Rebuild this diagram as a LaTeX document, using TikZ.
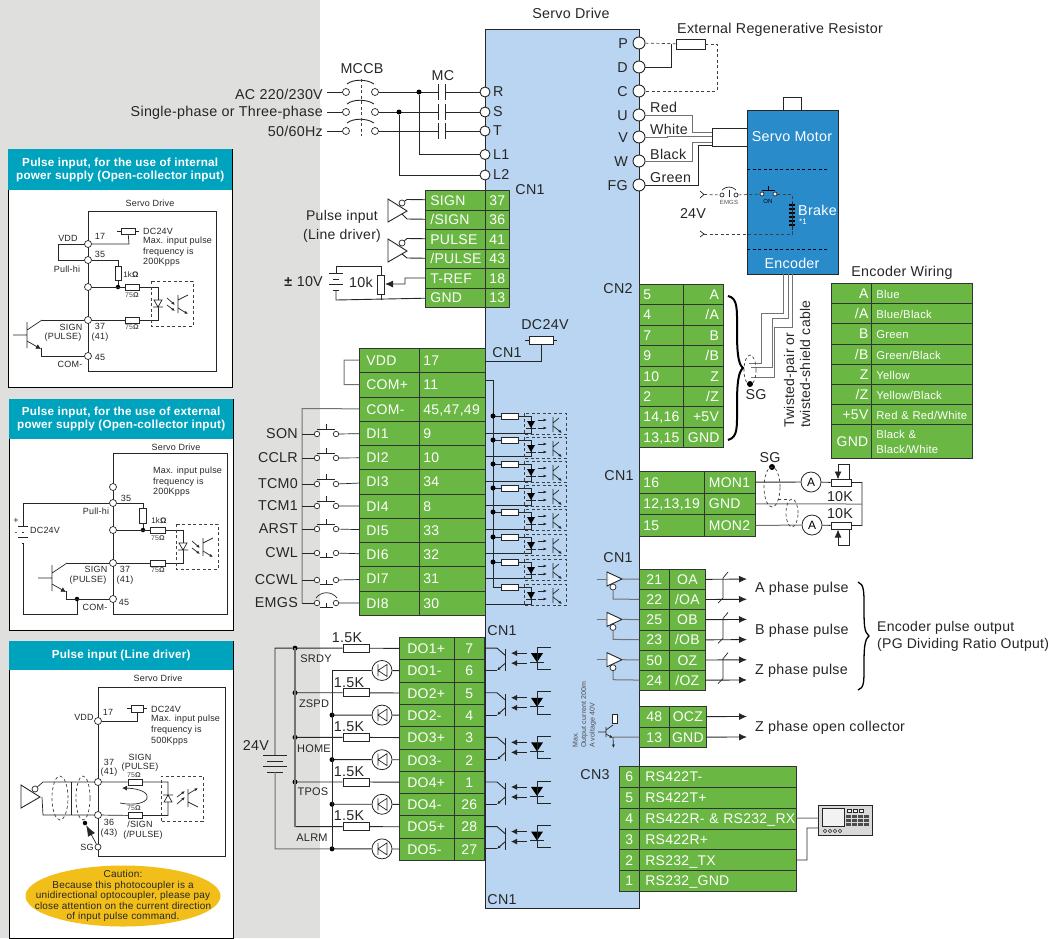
\documentclass[tikz,border=0pt]{standalone}
\usepackage{fontspec}
\setmainfont[LetterSpace=2]{Liberation Sans}
\usetikzlibrary{arrows.meta,shapes.geometric}
\definecolor{bggrey}{HTML}{DFDFDD}
\definecolor{drivecol}{HTML}{B9D5F1}
\definecolor{cngreen}{HTML}{6AB743}
\definecolor{motorcol}{HTML}{2A8BCB}
\definecolor{hdrcol}{HTML}{00A3BE}
\definecolor{cautioncol}{HTML}{F2BE1A}
\tikzset{
  lab/.style={inner sep=0pt,font=\fontsize{14.3}{17}\selectfont,text=black!85},
  slab/.style={inner sep=0pt,font=\fontsize{9}{10.6}\selectfont,text=black!85},
  xslab/.style={inner sep=0pt,font=\fontsize{7}{8.5}\selectfont,text=black!70},
  wire/.style={line width=.9pt,draw=black!85},
  gwire/.style={line width=1pt,draw=black!55},
  thin wire/.style={line width=.7pt,draw=black!85},
  dash wire/.style={line width=.7pt,draw=black!75,dash pattern=on 3pt off 2.5pt},
  term/.style={circle,draw=black!85,line width=.9pt,fill=white,inner sep=0pt,minimum size=10pt},
  bterm/.style={term,minimum size=12pt},
  sterm/.style={term,line width=.7pt,minimum size=7pt},
  swterm/.style={term,line width=.7pt,minimum size=5.5pt},
  dot/.style={circle,fill=black,inner sep=0pt,minimum size=5pt},
  res/.style 2 args={rectangle,draw=black!85,line width=.7pt,fill=white,inner sep=0pt,minimum width=#1pt,minimum height=#2pt},
  cell/.style={draw=black!80,line width=.7pt,fill=cngreen,text=white,anchor=north west,inner sep=0pt,
    text height=10pt,text depth=0pt,font=\fontsize{14}{16}\selectfont},
  lcell/.style 2 args={cell,minimum width=#1pt,minimum height=#2pt,text width=#1pt-10pt,align=left},
  rcell/.style 2 args={cell,minimum width=#1pt,minimum height=#2pt,text width=#1pt-6pt,align=right},
  ccell/.style 2 args={cell,minimum width=#1pt,minimum height=#2pt,text width=#1pt-2pt,align=center},
  panel/.style={draw=black,line width=1pt,fill=white,anchor=north west,inner sep=0pt},
  panelhdr/.style={fill=hdrcol,text=white,anchor=north west,inner sep=0pt,align=center,
    font=\fontsize{11.7}{13}\bfseries\selectfont},
  frame/.style={draw=black!85,line width=.7pt,anchor=north west,inner sep=0pt},
  atip/.style={-{Latex[length=8pt,width=7pt]}},
  stip/.style={-{Latex[length=3.5pt,width=3pt]}}
}
\newcommand{\battplates}[4]{
  \draw[wire] (#2-#3,#4)--(#2+#3,#4) (#2-#3+4,#4+6)--(#2+#3-4,#4+6)
    (#2-#3,#4+11)--(#2+#3,#4+11) (#2-#3+4,#4+17)--(#2+#3-4,#4+17);
  \coordinate (#1p) at (#2,#4);
  \coordinate (#1n) at (#2,#4+17);
}
\newcommand{\fusebox}[5]{
  \draw[thin wire] (#2-#4-4,#3)--(#2+#4+4,#3);
  \node[res={#4*2}{#5*2}] (#1) at (#2,#3) {};
}
\newcommand{\linedrv}[3]{
  \draw[wire,fill=white] (#2,#3)--(#2,#3+23)--(#2+19,#3+12)--cycle;
  \node[term,line width=.7pt,minimum size=6pt] (#1b) at (#2+14,#3+4) {};
  \coordinate (#1t) at (#2+14,#3+15);
}
\newcommand{\outbuf}[2]{
  \draw[wire,fill=white] (607,#2-7)--(607,#2+7)--(622,#2)--cycle;
  \node[term,line width=.7pt,minimum size=6pt] (#1b) at (613,#2+8) {};
  \coordinate (#1t) at (622,#2);
  \coordinate (#1i) at (597,#2);
  \coordinate (#1l) at (613,#2+20);
}
\newcommand{\npnout}[3]{
  \draw[thin wire] (#2-14,#3+13)--(#2,#3+13) (#2,#3)--(#2,#3+26) (#2,#3+8)--(#2+15,#3-2);
  \draw[thin wire,-{Latex[length=5pt,width=5pt]}] (#2,#3+19)--(#2+14,#3+27);
  \coordinate (#1c) at (#2+15,#3-2);
  \coordinate (#1e) at (#2+14,#3+26);
}
\newcommand{\optobox}[3][1]{
  \begin{scope}[shift={(#2,#3)},yscale=#1]
    \draw[dash wire] (0,0) rectangle (42,45);
    \draw[thin wire,fill=white] (3,19)--(11,19)--(7,26)--cycle (2,26)--(12,26);
    \draw[thin wire,stip] (16,17)--(24,24);
    \draw[thin wire,stip] (16,24)--(24,30);
    \draw[thin wire] (27,14)--(27,32) (27,19)--(37,14);
    \draw[thin wire,stip] (27,27)--(37,33);
  \end{scope}
}
\begin{document}
\begin{tikzpicture}[x=1pt,y=-1pt]
\useasboundingbox (0,0) rectangle (1051,938);
\fill[bggrey] (0,0) rectangle (320,938);
\node[draw=black!85,line width=.8pt,fill=drivecol,anchor=north west,minimum width=154pt,minimum height=879pt] (drive) at (485,29) {};
\node[lab] (drivel) at (571,13) {Servo Drive};

\node[panel,minimum width=224pt,minimum height=238pt] (pana) at (8,149) {};
\node[panelhdr,minimum width=224pt,minimum height=41pt] (panah) at (8,149) {Pulse input, for the use of internal\\power supply (Open-collector input)};
\node[frame,minimum width=128pt,minimum height=160pt] (pafr) at (88,211) {};
\node[slab] (pal1) at (150,203) {Servo Drive};
\foreach \nam/\y in {a17/244,a35/260,am/287,a37/320,a45/356}
  \node[sterm] (\nam) at (88,\y) {};
\fusebox{afuse}{128}{231}{7}{3}
\coordinate (aj1) at (58,244);
\coordinate (aj2) at (58,260);
\coordinate (aj3) at (129,244);
\coordinate (aj4) at (118,260);
\coordinate (aj5) at (158,287);
\coordinate (aj6) at (158,320);
\draw[thin wire] (a17) -- (aj1) -- (aj2) -- (a35);
\draw[thin wire] (a17) -- (aj3) -- (afuse);
\node[res={6}{14}] (ar1) at (118,273) {};
\node[dot,minimum size=4.5pt] (ad1) at (118,287) {};
\draw[thin wire] (a35) -- (aj4) -- (ar1) -- (ad1);
\node[res={14}{6}] (ar2) at (132,287) {};
\node[res={14}{6}] (ar3) at (132,320) {};
\draw[thin wire] (am) -- (ar2) -- (aj5) -- (aj6) -- (ar3) -- (a37);
\optobox{151}{281}
\npnout{an}{27}{322}
\coordinate (aj7) at (41,356);
\draw[thin wire] (anc) -- (a37);
\draw[thin wire] (ane) -- (aj7) -- (a45);
\foreach \nam/\x/\y/\txt in {p1/100/236/17,p2/68/238/VDD,p3/100/254/35,p4/67/269/Pull-hi,p5/71/327/SIGN,p6/63/337/(PULSE),p7/100/326/37,p8/100/337/(41),p9/100/357/45,p10/70/364/COM-}
  \node[slab] (a\nam) at (\x,\y) {\txt};
\foreach \nam/\y/\txt in {t1/231/DC24V,t2/241.5/Max. input pulse,t3/252/frequency is,t4/262.5/200Kpps}
  \node[slab,anchor=west] (a\nam) at (143,\y) {\txt};
\node[slab,font=\fontsize{8}{9}\selectfont] (ao1) at (131,275) {1k\textbf{Ω}};
\node[xslab] (ao2) at (132,295) {75\textbf{Ω}};
\node[xslab] (ao3) at (132,327) {75\textbf{Ω}};

\node[panel,minimum width=224pt,minimum height=231pt] (panb) at (9,399) {};
\node[panelhdr,minimum width=224pt,minimum height=40pt] (panbh) at (9,399) {Pulse input, for the use of external\\power supply (Open-collector input)};
\node[frame,minimum width=114pt,minimum height=161pt] (pbfr) at (113,453) {};
\node[slab] (pbl1) at (176,447) {Servo Drive};
\foreach \nam/\y in {b0/487,b35/503,bm/530,b37/563,b45/599}
  \node[sterm] (\nam) at (113,\y) {};
\coordinate (bj1) at (143,503);
\coordinate (bj2) at (183,530);
\coordinate (bj3) at (183,563);
\node[res={7}{15}] (br1) at (143,515.5) {};
\node[dot,minimum size=4.5pt] (bd1) at (143,530) {};
\draw[thin wire] (b35) -- (bj1) -- (br1) -- (bd1);
\node[res={15}{6}] (br2) at (158,530) {};
\node[res={15}{6}] (br3) at (158,563) {};
\draw[thin wire] (bm) -- (br2) -- (bj2) -- (bj3) -- (br3) -- (b37);
\optobox{176}{524}
\battplates{bb}{23}{5}{526}
\coordinate (bj4) at (23,503);
\coordinate (bj5) at (23,614);
\coordinate (bj6) at (77,614);
\node[dot,minimum size=4.5pt] (bd2) at (77,599) {};
\draw[thin wire] (b35) -- (bj4) -- (bbp);
\draw[thin wire] (bbn) -- (bj5) -- (bj6) -- (bd2);
\npnout{bn}{52}{565}
\coordinate (bj7) at (66,599);
\draw[thin wire] (bnc) -- (b37);
\draw[thin wire] (bne) -- (bj7) -- (b45);
\foreach \nam/\x/\y/\txt in {p1/126/498/35,p2/96/511/Pull-hi,p3/96/569/SIGN,p4/88/580/(PULSE),p5/125/569/37,p6/125/580/(41),p7/124/602/45,p8/95/607/COM-,p9/16/521/+,p10/16/534/-}
  \node[slab] (b\nam) at (\x,\y) {\txt};
\node[slab,anchor=west] (bt0) at (30,530) {DC24V};
\foreach \nam/\y/\txt in {t1/471/Max. input pulse,t2/482/frequency is,t3/492.5/200Kpps}
  \node[slab,anchor=west] (b\nam) at (153,\y) {\txt};
\node[slab,font=\fontsize{8}{9}\selectfont] (bo1) at (159,521) {1k\textbf{Ω}};
\node[xslab] (bo2) at (158,538) {75\textbf{Ω}};
\node[xslab] (bo3) at (158,570) {75\textbf{Ω}};

\node[panel,minimum width=224pt,minimum height=297pt] (panc) at (9,641) {};
\node[panelhdr,minimum width=224pt,minimum height=29pt] (panch) at (9,641) {Pulse input (Line driver)};
\node[frame,minimum width=127pt,minimum height=169pt] (pcfr) at (98,687) {};
\node[slab] (pcl1) at (158,678) {Servo Drive};
\foreach \nam/\y in {c17/721,c37/782,c36/815}
  \node[sterm] (\nam) at (98,\y) {};
\node[sterm,minimum size=6pt] (csg) at (98,847) {};
\fusebox{cfuse}{137}{708.5}{6}{3.5}
\coordinate (cj1) at (137,721);
\draw[thin wire] (c17) -- (cj1) -- (cfuse);
\node[res={14}{6}] (cr1) at (135,782) {};
\node[res={14}{6}] (cr2) at (135,815.5) {};
\coordinate (cj2) at (168,782);
\coordinate (cj3) at (168,815.5);
\draw[thin wire] (c37) -- (cr1) -- (cj2) -- (cj3) -- (cr2) -- (c36);
\optobox[-1]{161}{821}
\draw[thin wire,-{Latex[length=5pt,width=5pt]}] (120,803) .. controls (152,809) and (158,789) .. (122,788);
\linedrv{cdrv}{21}{785}
\coordinate (cj4) at (43,782);
\coordinate (cj5) at (43,815);
\coordinate (cj6) at (42,797);
\draw[thin wire] (cdrvb) -- (cj4) -- (c37);
\draw[thin wire] (cj6) -- (cj5) -- (c36);
\coordinate (cj7) at (71,782);
\coordinate (cj8) at (71,815);
\draw[thin wire] (cj7) -- (cj8);
\draw[dash wire] (60,798) ellipse [x radius=8pt,y radius=22pt];
\draw[dash wire] (83,798) ellipse [x radius=7pt,y radius=22pt];
\node[dot,minimum size=4.5pt] (cd1) at (85,823) {};
\draw[thin wire,-{Latex[length=11pt,width=8pt]}] (csg) -- (cd1);
\foreach \nam/\x/\y/\txt in {p1/84/717/VDD,p2/108/712/17,p3/109/762/37,p4/109/772/(41),p5/140/757/SIGN,p6/140/767/(PULSE),p7/109/822/36,p8/109/833/(43),p9/140/824/{/SIGN},p10/143/835/{(/PULSE)},p11/87/847/SG}
  \node[slab] (c\nam) at (\x,\y) {\txt};
\foreach \nam/\y/\txt in {t1/709/DC24V,t2/719.5/Max. input pulse,t3/730/frequency is,t4/741/500Kpps}
  \node[slab,anchor=west] (c\nam) at (151,\y) {\txt};
\node[xslab] (co1) at (134,775) {75\textbf{Ω}};
\node[xslab] (co2) at (134,808) {75\textbf{Ω}};
\fill[cautioncol] (123,896) ellipse [x radius=97.5pt,y radius=30.5pt];
\node[inner sep=0pt,align=center,font=\fontsize{10}{10.6}\selectfont,text=black!85] (caution) at (123,896)
  {Caution:\\Because this photocoupler is a\\unidirectional optocoupler, please pay\\close attention on the current direction\\of input pulse command.};

\foreach \lab/\y in {R/92,S/112,T/131,L1/154.5,L2/175} {
  \node[term] (t\lab) at (485,\y) {};
  \node[lab,anchor=west] (l\lab) at (493,\y) {\lab};
}
\node[lab,anchor=east] (ac1) at (323,94) {AC 220/230V};
\node[lab,anchor=east] (ac2) at (323,113) {Single-phase or Three-phase};
\node[lab,anchor=east] (ac3) at (323,131.5) {50/60Hz};
\node[lab] (mccb) at (362,69) {MCCB};
\node[lab] (mcl) at (443,76) {MC};
\foreach \lab/\y [count=\i] in {R/92,S/112,T/131} {
  \node[sterm] (ba\i) at (346,\y) {};
  \node[sterm] (bb\i) at (375,\y) {};
  \coordinate (mcl\i) at (438,\y);
  \coordinate (mcr\i) at (445,\y);
  \coordinate (mi\i) at (327,\y);
  \draw[wire] (mi\i) -- (ba\i);
  \draw[wire] (bb\i) -- (mcl\i);
  \draw[wire] (mcr\i) -- (t\lab);
  \draw[wire] (438,\y-8)--(438,\y+8) (445,\y-8)--(445,\y+8);
  \draw[wire] (347,\y-8) .. controls (353,\y-13) and (367,\y-13) .. (374,\y-8);
}
\draw[dash wire] (361,79)--(361,136);
\node[dot] (d1) at (419,92) {};
\node[dot] (d2) at (399,112) {};
\coordinate (j1) at (419,154.5);
\coordinate (j2) at (399,175);
\draw[wire] (d1) -- (j1) -- (tL1);
\draw[wire] (d2) -- (j2) -- (tL2);

\foreach \lab/\num [count=\i from 0] in {SIGN/37,{/SIGN}/36,PULSE/41,{/PULSE}/43,T-REF/18,GND/13} {
  \node[lcell={60}{19.5}] (pin\i) at (425,190+\i*19.5) {\lab};
  \node[ccell={24}{19.5}] (pnum\i) at (485,190+\i*19.5) {\num};
}
\node[lab] (cn1a) at (530,190) {CN1};
\linedrv{sdrv}{388}{199}
\linedrv{pdrv}{388}{239}
\coordinate (s1) at (407,199.5);
\coordinate (s2) at (407,219);
\coordinate (s3) at (407,238.5);
\coordinate (s4) at (407,258);
\draw[wire] (sdrvb) -- (s1) -- (pin0);
\draw[wire] (sdrvt) -- (s2) -- (pin1);
\draw[wire] (pdrvb) -- (s3) -- (pin2);
\draw[wire] (pdrvt) -- (s4) -- (pin3);
\node[lab,font=\fontsize{14}{19}\selectfont,align=center] (pulsel) at (342,226) {Pulse input\\(Line driver)};
\node[lab,anchor=east] (tenv) at (323,282) {\textbf{±} 10V};
\battplates{tb}{336}{7}{273}
\node[res={7}{19}] (potr) at (381,284.5) {};
\node[lab] (tenk) at (361,282) {10k};
\coordinate (q1) at (336,266);
\coordinate (q2) at (381,266);
\coordinate (q3) at (336,300);
\coordinate (q4) at (381,300);
\coordinate (q5) at (405,278);
\coordinate (q6) at (405,284);
\coordinate (q7) at (385,284);
\draw[wire] (tbp) -- (q1) -- (q2) -- (potr);
\draw[wire] (tbn) -- (q3) -- (pin5);
\draw[wire] (potr) -- (q4);
\draw[wire,atip] (pin4) -- (q5) -- (q6) -- (q7);

\foreach \lab/\num [count=\i from 0] in {VDD/17,COM+/11,COM-/{45,47,49},DI1/9,DI2/10,DI3/34,DI4/8,DI5/33,DI6/32,DI7/31,DI8/30} {
  \node[lcell={60}{24.27},text width=46pt] (dia\i) at (359,348+\i*24.27) {\lab};
  \node[lcell={66}{24.27},text width=58pt] (dib\i) at (419,348+\i*24.27) {\num};
}
\coordinate (v1) at (344,360);
\coordinate (v2) at (344,384.5);
\draw[gwire] (dia0) -- (v1) -- (v2) -- (dia1);
\coordinate (c1) at (302,408.5);
\coordinate (c2) at (302,603);
\draw[gwire] (dia2) -- (c1) -- (c2);
\foreach \lab/\y [count=\i from 3] in {SON/434,CCLR/458,TCM0/484,TCM1/506,ARST/529,CWL/553,CCWL/580,EMGS/603} {
  \node[lab,anchor=east] (sl\i) at (298,\y) {\lab};
  \node[swterm] (swa\i) at (317,\y) {};
  \node[swterm] (swb\i) at (336,\y) {};
  \coordinate (swl\i) at (302,\y);
  \draw[thin wire] (swl\i) -- (swa\i);
  \draw[thin wire] (swb\i) -- (dia\i);
}
\foreach \y in {434,458,484,506,529}
  \draw[thin wire] (317,\y-5)--(335,\y-5) (326,\y-5)--(326,\y-10);
\foreach \y in {553,580,603}
  \draw[thin wire] (320,\y+4)--(333,\y+4) (326.5,\y+4)--(326.5,\y);
\draw[thin wire] (316,598) .. controls (321,591) and (332,591) .. (337,598);
\fusebox{dcfuse}{541}{340}{12}{4}
\node[lab] (dcl) at (545,325) {DC24V};
\node[lab] (cn1b) at (507,353) {CN1};
\coordinate (f1) at (541,361);
\coordinate (f2) at (485,361);
\draw[wire] (dcfuse) -- (f1) -- (f2);
\coordinate (e1) at (485,380);
\coordinate (e2) at (493,380);
\coordinate (e3) at (493,587);
\draw[wire] (e1) -- (e2) -- (e3);
\foreach \yr/\yb [count=\i] in {416/433,440/456,464/481,488/505,512/529,537/553,562/578,587/604} {
  \node[res={17}{6}] (dir\i) at (510,\yr) {};
  \coordinate (dil\i) at (493,\yr);
  \coordinate (dit\i) at (531,\yr);
  \coordinate (dim\i) at (531,\yb);
  \coordinate (dio\i) at (485,\yb);
  \draw[wire] (dil\i) -- (dir\i) -- (dit\i) -- (dim\i) -- (dio\i);
  \draw[dash wire] (524,\yr-3) rectangle (566,\yr+18);
  \fill[black] (527,\yr+5)--(535,\yr+5)--(531,\yr+12)--cycle;
  \draw[thin wire] (526,\yr+12)--(536,\yr+12);
  \draw[thin wire,stip] (538,\yr+4)--(547,\yr+4);
  \draw[thin wire,stip] (538,\yr+12)--(547,\yr+12);
  \draw[thin wire] (553,\yr+1)--(553,\yr+16) (553,\yr+7)--(559,\yr+2);
  \draw[thin wire,stip] (553,\yr+10)--(562,\yr+17);
}
\foreach \i in {1,...,7}
  \node[dot] (did\i) at (dil\i) {};

\foreach \lab/\num [count=\i] in {DO1+/7,DO1-/6,DO2+/5,DO2-/4,DO3+/3,DO3-/2,DO4+/1,DO4-/26,DO5+/28,DO5-/27} {
  \node[lcell={55}{22.3},text width=39pt] (doa\i) at (399,637+\i*22.3-22.3) {\lab};
  \node[ccell={30}{22.3}] (dob\i) at (454,637+\i*22.3-22.3) {\num};
}
\node[lab] (cn1c) at (502,631) {CN1};
\foreach \i/\x/\tx in {1/295/347,3/295/349,5/295/349,7/295/349,9/295/349} {
  \node[res={26}{8}] (dor\i) at (356,625.85+\i*22.3) {};
  \coordinate (dol\i) at (\x,625.85+\i*22.3);
  \draw[wire] (dol\i) -- (dor\i) -- (doa\i);
  \node[lab] (dok\i) at (\tx,625.85+\i*22.3-10.5) {1.5K};
}
\foreach \i in {1,3,5,7}
  \node[dot] (dod\i) at (dol\i) {};
\draw[gwire,line width=1.2pt] (dol1) -- (dol9);
\foreach \i in {2,4,6,8,10} {
  \node[circle,draw=black!85,line width=.8pt,fill=white,inner sep=0pt,minimum size=20pt] (doc\i) at (382,625.85+\i*22.3) {};
  \coordinate (dom\i) at (332,625.85+\i*22.3);
  \draw[wire] (doa\i) -- (doc\i) -- (dom\i);
  \draw[thin wire] (378,625.85+\i*22.3-6)--(378,625.85+\i*22.3+6)
    (387,625.85+\i*22.3-6)--(387,625.85+\i*22.3+6)--(378,625.85+\i*22.3)--cycle;
}
\foreach \i in {4,6,8,10}
  \node[dot] (dop\i) at (dom\i) {};
\draw[wire] (dom2) -- (dom10);
\battplates{dob}{275}{12}{755}
\node[lab] (v24) at (256,745) {24V};
\coordinate (g1) at (275,648.15);
\draw[wire] (dod1) -- (g1) -- (dobp);
\coordinate (g2) at (275,848.85);
\draw[gwire] (dobn) -- (g2) -- (dop10);
\foreach \nam/\x/\y in {SRDY/316/659,ZSPD/314/704,HOME/314/749,TPOS/313/792,ALRM/312/838}
  \node[slab,font=\fontsize{11}{12}\selectfont] (lb\nam) at (\x,\y) {\nam};
\foreach \i/\j [evaluate=\i as \yp using 625.85+\i*22.3,evaluate=\j as \ym using 625.85+\j*22.3] in {1/2,3/4,5/6,7/8,9/10} {
  \coordinate (tr\i) at (484,\yp);
  \coordinate (te\i) at (484,\ym);
  \coordinate (trb\i) at (497,\yp);
  \coordinate (teb\i) at (497,\ym);
  \draw[wire] (tr\i) -- (trb\i) -- (505,\yp+7);
  \draw[wire] (te\i) -- (teb\i);
  \draw[wire,stip] (505,\ym-7)--(497,\ym);
  \draw[wire] (505,\yp+1)--(505,\ym+1);
  \draw[wire,{Latex[length=6pt,width=6pt]}-] (511,\yp+5)--(527,\yp+5);
  \draw[wire,{Latex[length=6pt,width=6pt]}-] (511,\yp+15)--(527,\yp+15);
  \fill[black] (531,\yp+5)--(543,\yp+5)--(537,\yp+14)--cycle;
  \draw[wire] (530,\yp+14)--(544,\yp+14);
  \draw[wire] (551,\yp-1)--(537,\yp-1)--(537,\ym-1)--(551,\ym-1);
}

\foreach \lab/\y in {P/43,D/67,C/91,U/115,V/137,W/161,FG/185} {
  \node[bterm] (t\lab) at (639,\y) {};
  \node[lab,anchor=east] (l\lab) at (628,\y+1) {\lab};
}
\node[lab] (extl) at (780,30) {External Regenerative Resistor};
\node[res={29}{10}] (extr) at (690.5,44) {};
\coordinate (x1) at (671,44);
\coordinate (x2) at (671,67);
\coordinate (x3) at (717,44);
\coordinate (x4) at (717,91);
\draw[dash wire] (tP) -- (extr);
\draw[wire] (x1) -- (x2) -- (tD);
\draw[dash wire] (extr) -- (x3) -- (x4) -- (tC);
\node[res={91}{164},fill=motorcol,anchor=north west] (motor) at (747,110) {};
\node[res={18}{13},anchor=north west] (shaft) at (783,97) {};
\node[res={35}{18},anchor=north west] (conn) at (712,128) {};
\draw[dash wire,draw=black] (747,169)--(827,169) (747,249)--(827,249);
\node[lab,text=white] (motorl) at (792,137) {Servo Motor};
\node[lab,text=white] (encl) at (792,263) {Encoder};
\node[lab,text=white,anchor=west] (brakel) at (798,210) {Brake};
\node[xslab,text=white,font=\fontsize{8}{9}\selectfont] (starl) at (803,222) {*1};
\foreach \lab/\x/\y in {Red/650/107,White/650/129,Black/650/154,Green/650/178}
  \node[lab,anchor=west] (w\lab) at (\x,\y) {\lab};
\foreach \nam/\x/\y in {u1/692/115,u2/692/132,u3/712/132,v1a/667/137,v2a/667/136,v3a/712/136,w1/692/161,w2/692/142,w3/712/142,g1a/698/185,g2a/698/145,g3a/712/145}
  \coordinate (\nam) at (\x,\y);
\draw[gwire] (tU) -- (u1) -- (u2) -- (u3);
\draw[gwire] (tV) -- (v1a) -- (v2a) -- (v3a);
\draw[gwire] (tW) -- (w1) -- (w2) -- (w3);
\draw[wire] (tFG) -- (g1a) -- (g2a) -- (g3a);
\node[swterm,minimum size=4pt] (sw1) at (722,195) {};
\node[swterm,minimum size=4pt] (sw2) at (736,195) {};
\node[swterm,minimum size=4pt] (sw3) at (762,194) {};
\node[swterm,minimum size=4pt] (sw4) at (775,194) {};
\node[xslab,font=\fontsize{6}{7}\selectfont] (emgsl) at (729,202) {EMGS};
\node[xslab,font=\fontsize{6}{7}\selectfont,text=black] (onl) at (768,201) {ON};
\node[lab] (v24b) at (693,214) {24V};
\coordinate (h1) at (704,194.5);
\coordinate (h2) at (704,234);
\coordinate (h3) at (792,194);
\coordinate (h4) at (792,202);
\coordinate (h5) at (792,230);
\coordinate (h6) at (792,234);
\draw[thin wire] (700,191)--(704,194.5)--(700,198) (700,231)--(704,234)--(700,237);
\draw[dash wire] (h1) -- (sw1);
\draw[dash wire] (sw2) -- (sw3);
\draw[dash wire] (sw4) -- (h3) -- (h4);
\draw[dash wire] (h2) -- (h6) -- (h5);
\draw[thin wire] (722,190) .. controls (726,186) and (732,186) .. (736,190);
\draw[thin wire] (729,190)--(729,197);
\draw[thin wire,draw=black] (762,190)--(775,190) (768.5,190)--(768.5,186);
\foreach \y in {205,209,213,217,221,225}
  \draw[line width=1.1pt,black] (789,\y)--(795,\y);
\draw[thin wire] (792,202)--(792,230);
\foreach \nam/\x/\y in {ca/783/274,cb/783/313,cc/761/313,cd/761/363,ce/749/363,da/788/274,db/788/318,dc/772/318,dd/772/367,de/751/367,ea/792/274,eb/792/327,ec/774/327,ed/774/377,ee/751/377}
  \coordinate (\nam) at (\x,\y);
\draw[gwire] (ca) -- (cb) -- (cc) -- (cd) -- (ce);
\draw[gwire] (da) -- (db) -- (dc) -- (dd) -- (de);
\draw[gwire] (ea) -- (eb) -- (ec) -- (ed) -- (ee);
\draw[dash wire] (750,370) ellipse [x radius=6pt,y radius=15pt];
\node[dot,minimum size=6pt] (sgd) at (750,384) {};
\node[lab] (sgl) at (756,395) {SG};
\draw[line width=2pt] (728,296) .. controls (738,298) and (737,310) .. (737,330) .. controls (737,352) and (738,364) .. (743,368) .. controls (738,372) and (737,385) .. (737,405) .. controls (737,428) and (738,437) .. (728,440);
\node[lab,rotate=90,anchor=west,align=left,font=\fontsize{14}{16}\selectfont] (twist) at (797,428) {Twisted-pair or\\twisted-shield cable};

\node[lab] (cn2l) at (618,289) {CN2};
\foreach \lab/\num [count=\i from 0] in {5/A,4/{/A},7/B,9/{/B},10/Z,2/{/Z},{14,16}/+5V,{13,15}/GND} {
  \node[lcell={44}{20.4},text width=36pt] (cna\i) at (639,284+\i*20.4) {\lab};
  \node[rcell={40}{20.4},text width=31pt] (cnb\i) at (683,284+\i*20.4) {\num};
}
\node[lab] (ewl) at (902,273) {Encoder Wiring};
\foreach \lab/\col [count=\i from 0] in {A/Blue,{/A}/{Blue/Black},B/Green,{/B}/{Green/Black},Z/Yellow,{/Z}/{Yellow/Black},+5V/{Red \& Red/White}} {
  \node[rcell={40}{20.2}] (ewa\i) at (831,283+\i*20.2) {\lab};
  \node[lcell={101}{20.2},font=\fontsize{11.3}{13}\selectfont] (ewb\i) at (871,283+\i*20.2) {\mbox{\col}};
}
\node[rcell={40}{34}] (ewa7) at (831,424.4) {GND};
\node[lcell={101}{34},font=\fontsize{11.3}{15.5}\selectfont,text height=,text depth=] (ewb7) at (871,424.4) {Black \&\\Black/White};

\node[lab] (cn1d) at (619,476) {CN1};
\foreach \lab/\num [count=\i from 0] in {16/MON1,{12,13,19}/GND,15/MON2} {
  \node[lcell={65}{21.7},text width=57pt] (mona\i) at (639,471+\i*21.7) {\lab};
  \node[lcell={51}{21.7},text width=42pt] (monb\i) at (704,471+\i*21.7) {\num};
}
\node[circle,draw=black!85,line width=.8pt,fill=white,inner sep=0pt,minimum size=20pt,font=\fontsize{12}{14}\selectfont] (am1) at (811,482) {A};
\node[circle,draw=black!85,line width=.8pt,fill=white,inner sep=0pt,minimum size=20pt,font=\fontsize{12}{14}\selectfont] (am2) at (812,525) {A};
\node[res={20}{7}] (mpot1) at (841,482.5) {};
\node[res={20}{7}] (mpot2) at (841,525.5) {};
\node[lab] (k1) at (840,497) {10K};
\node[lab] (k2) at (840,514) {10K};
\coordinate (mj1) at (862,482.5);
\coordinate (mj2) at (862,525.5);
\coordinate (mj3) at (862,504);
\draw[wire] (monb0) -- (am1) -- (mpot1) -- (mj1) -- (mj2) -- (mpot2) -- (am2);
\draw[gwire] (am2) -- (monb2);
\draw[gwire] (monb1) -- (mj3);
\draw[wire,atip] (849,479)--(849,464)--(838,464)--(838,479.5);
\draw[wire,atip] (849,529)--(849,545)--(838,545)--(838,529.5);
\node[lab] (sgm) at (770,458) {SG};
\node[dot,minimum size=6pt] (sgn) at (772,467) {};
\draw[dash wire] (772,487) ellipse [x radius=8pt,y radius=20pt];
\draw[dash wire] (792,513) ellipse [x radius=6pt,y radius=14pt];
\draw[dash wire] (778,499)--(788,499);

\node[lab] (cn1e) at (618,558) {CN1};
\foreach \lab/\num [count=\i from 0] in {21/OA,22/{/OA},25/OB,23/{/OB},50/OZ,24/{/OZ}} {
  \node[ccell={30}{20.17}] (oa\i) at (639,569+\i*20.17) {\lab};
  \node[ccell={36}{20.17}] (ob\i) at (669,569+\i*20.17) {\num};
  \coordinate (oe\i) at (747,579.08+\i*20.17);
  \draw[wire,atip] (ob\i) -- (oe\i);
}
\foreach \nam/\y/\ia/\ib in {oba/579/0/1,obb/619.4/2/3,obc/659.7/4/5} {
  \outbuf{\nam}{\y}
  \draw[gwire] (\nam i) -- (607,\y);
  \draw[gwire] (\nam t) -- (oa\ia);
  \draw[gwire] (\nam b) -- (\nam l) -- (oa\ib);
  \draw[thin wire] (728,\y-7)--(723,\y-1)--(723,\y+19)--(718,\y+24);
}
\foreach \y/\txt/\nam in {589/A phase pulse/pa,631/B phase pulse/pb,671/Z phase pulse/pz}
  \node[lab,anchor=west] (ph\nam) at (755,\y) {\txt};
\draw[line width=1.3pt] (858,582) .. controls (864,584) and (864,592) .. (864,605) .. controls (864,625) and (864,632) .. (869,636) .. controls (864,640) and (864,650) .. (864,668) .. controls (864,682) and (864,688) .. (858,690);
\node[lab,anchor=west,align=left,font=\fontsize{14}{16.5}\selectfont] (pgl) at (877,636.5) {Encoder pulse output\\(PG Dividing Ratio Output)};
\foreach \lab/\num [count=\i from 0] in {48/OCZ,13/GND} {
  \node[ccell={30}{20.5}] (za\i) at (639,706+\i*20.5) {\lab};
  \node[ccell={37}{20.5}] (zb\i) at (669,706+\i*20.5) {\num};
  \coordinate (ze\i) at (747,716.5+\i*20.5);
  \draw[wire,atip] (zb\i) -- (ze\i);
}
\node[lab,anchor=west] (zopen) at (755,728) {Z phase open collector};
\node[res={5}{9}] (zr) at (614.5,718.5) {};
\draw[thin wire] (598,732)--(606,732) (606,727)--(606,737) (606,730)--(613,725);
\draw[thin wire,stip] (606,734)--(613,738);
\coordinate (zc) at (613,737);
\coordinate (zg) at (613.5,748);
\draw[gwire] (zc) -- (za1);
\draw[thin wire,stip] (zc) -- (zg);
\node[xslab,rotate=90,anchor=west,align=left] (maxl) at (584.5,748) {Max.\\Output current 200m\\A voltage 40V};

\node[lab] (cn3l) at (595,775) {CN3};
\foreach \lab/\num [count=\i from 0] in {6/RS422T-,5/RS422T+,4/RS422R- \& RS232\_RX,3/RS422R+,2/RS232\_TX,1/RS232\_GND} {
  \node[ccell={20}{20.83}] (csa\i) at (619,766+\i*20.83) {\lab};
  \node[lcell={157}{20.83},text width=145pt] (csb\i) at (639,766+\i*20.83) {\mbox{\num}};
}
\node[res={54}{30},fill=black!15,anchor=north west] (hmi) at (818,805) {};
\node[res={22}{18},fill=black!5,anchor=north west] (hmis) at (822,808) {};
\foreach \x in {849,855,861}
  \node[res={4}{3},fill=black!5] (hk\x) at (\x,811) {};
\foreach \y in {816,820,824}
  \foreach \x in {848,854,860,866}
    \fill[black!70] (\x-2.5,\y-1.5) rectangle (\x+2.5,\y+1.5);
\foreach \x in {825,830,835,840}
  \draw[line width=.5pt,black!80] (\x,831) circle (1.8pt);
\coordinate (hj1) at (807,860);
\coordinate (hj2) at (807,828);
\coordinate (hj3) at (818,828);
\coordinate (hj4) at (818,818);
\draw[gwire] (csb2) -- (hj4);
\draw[wire] (csb4) -- (hj1) -- (hj2) -- (hj3);
\node[lab] (cn1f) at (502,900) {CN1};
\end{tikzpicture}
\end{document}
